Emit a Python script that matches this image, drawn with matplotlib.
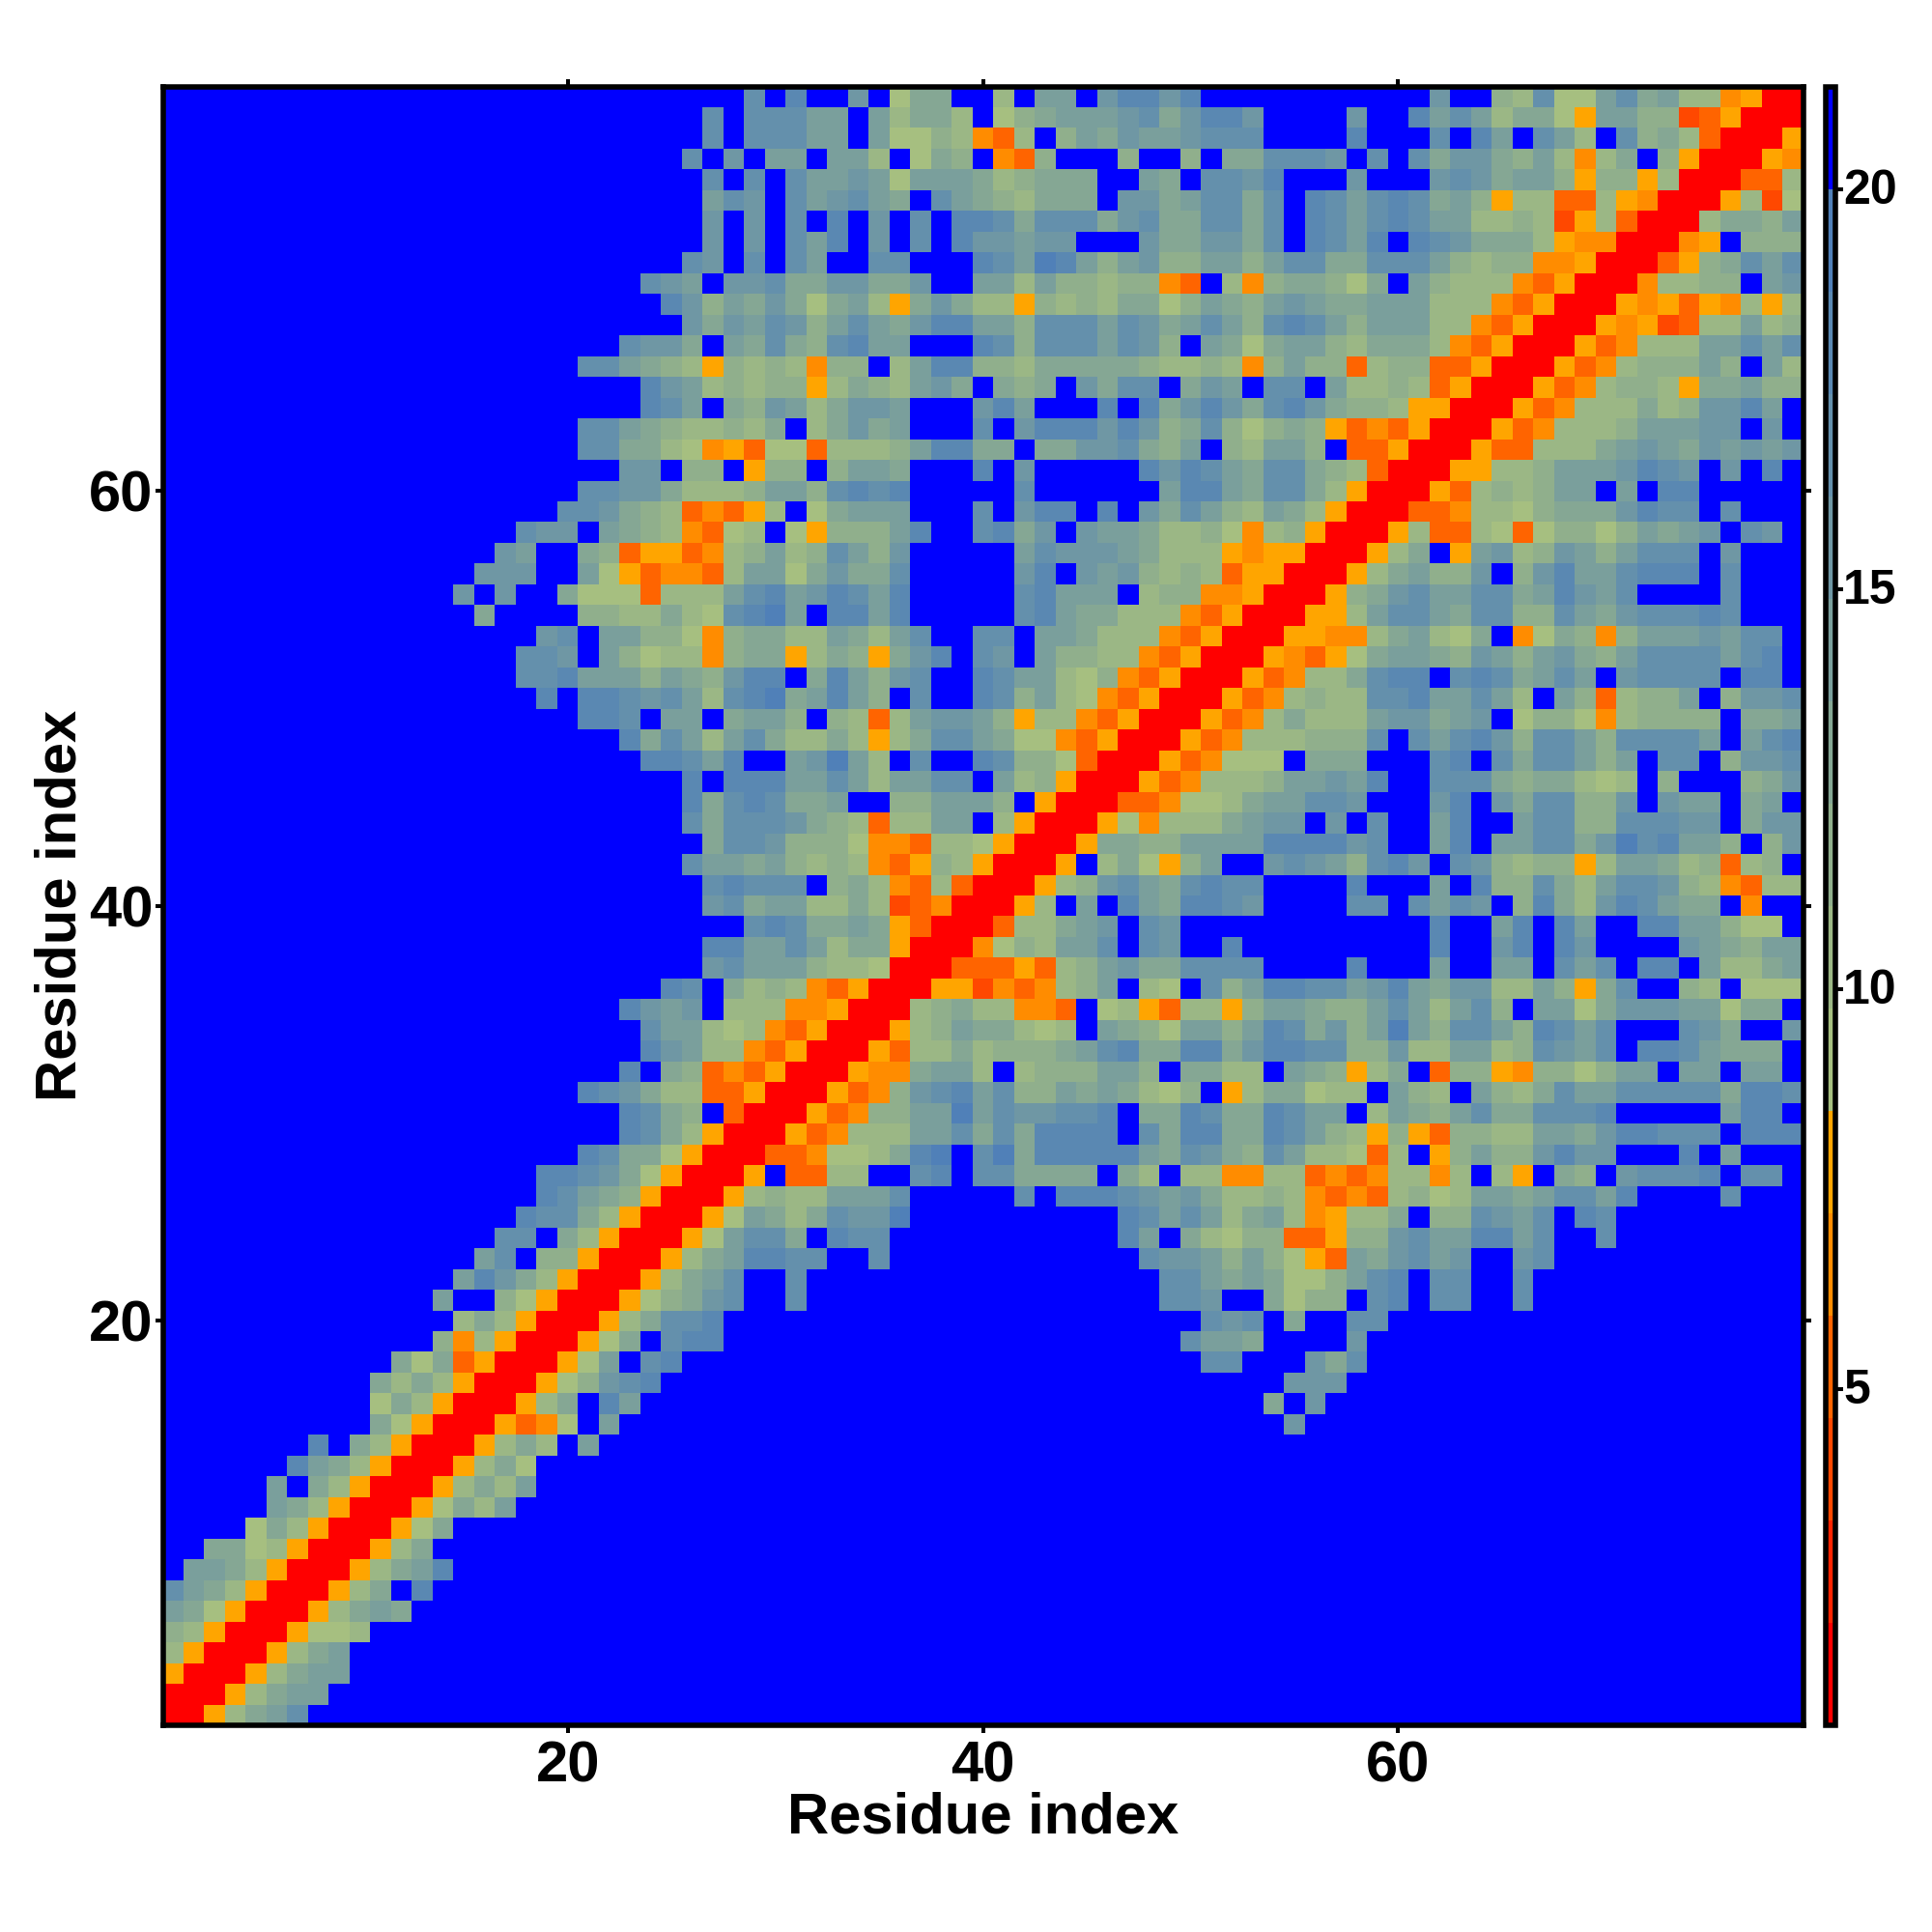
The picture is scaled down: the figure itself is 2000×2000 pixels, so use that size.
import matplotlib
matplotlib.use("Agg")
import matplotlib.pyplot as plt
import numpy as np
from matplotlib.colors import ListedColormap, BoundaryNorm
from matplotlib.transforms import ScaledTranslation

plt.rcParams['font.family'] = ['Liberation Sans', 'DejaVu Sans']
plt.rcParams['font.weight'] = 'bold'

# distance-map bins and their colours, one per bin, low to high
BIN_EDGES = [0.8, 2.08, 3.36, 4.64, 5.92, 7.2, 8.48, 9.76, 11.04, 12.32, 13.6, 14.88, 16.16, 17.44, 18.72, 20.0, 21.28]
BIN_COLORS = ['#ff0000', '#ff2400', '#ff4800', '#ff6400', '#ff8c00', '#ffa500',
              '#a6bf80', '#9bb785', '#90af8c', '#85a794', '#7a9f9c', '#6f97a4', '#6490ac', '#5a88b2', '#5080b8',
              '#0000ff']
# symbol -> distance value read for a cell
SYMBOL_VALUES = {'R': 1.44, 'r': 4.0, 'q': 5.28, 'p': 6.56, 'o': 7.84,
                 'a': 9.12, 'b': 10.4, 'c': 11.68, 'd': 12.96, 'e': 14.24,
                 'f': 15.52, 'g': 16.8, 'h': 18.08, 'i': 19.36, '.': 20.64}

XY_TICKS = [20, 40, 60]
CBAR_TICKS = [5, 10, 15, 20]
AXIS_LABEL = 'Residue index'

# One string per row, residue 79 at the top down to residue 1; groups of ten columns.
ROWS_TOP = [
".......... .......... ........g. h..f.add.. b.ee.fhhfh .......... .f..cbgaae gdebbpoRR",
".......... .......... ......g.gg gee.ebddb. acdeeefgdf hhf....f.. hegebddaoe eccrqoRRR",
".......... .......... ......g.gg gee.eaacbp qb.cedfeef ggg....h.. .g.he.geb. gcdbqRRRo",
".......... .......... .....g.f.e e.eeb.adc. pqc...c..c .ddgggf.g. gdffdcebpb d.coRRRop",
".......... .......... ......g.g. geefeaeeed bcddd..ed. ggfh...f.. .fgfdeecoc cobRRRqqb",
".......... .......... ......egf. gefged.ged cbddd.ffde ggdg.hgegh gdecobbqqb opRRRobra",
".......... .......... ......f.f. g.h.f.g.hh gdgggdfgdd ggdg.hgegh geebbcbrob qRRRbddce",
".......... .......... ......f.f. geh.f.g.hf feff...fdd ffdg.hgeh. hgfdddbopp RRRpo.ccc",
".......... .......... .....gf.g. ge..gg...h geihecefcc eeceggddgg gecbccppoR RRqocdgeg",
".......... .......... ...gfe.ffg ddffddf..e ebeccbccpq .bpcddcad. ecbbbpqoRR Rpbbcc.ef",
".......... .......... ....hfcedf dadebodfdb bocbcbddac edcefeddee ebbbpqoRRR opoqopbob",
".......... .......... .....fdfeg fcegedfhhe ecgggegfde gecghgecee ebbpqoRRRo porqbbebc",
".......... .......... ..gffd.edg dcghee...h gcgggegfc. edadeecbdd dbpqoRRRoq pbbbeegeg",
".......... .......... ggedcbocbc bpcc.behhc cbdddddcbb cbpceccqbc cqqoRRRoqp bcccec.eb",
".......... .......... ...hfebcbc cobdcbefd. dcd.fdgg.d fe.gg.ebbc bqoRRRoqpb ccboddecc",
".......... .......... ...hge.dcf ebdffe...f he...h.hdf hfdghfdccb ooRRRoqpbb bdbcffhe.",
".......... .......... ggedcbbcbd .bdfde...g .fhhhfhfcd gcacdcoqpq oRRRoqpbbb ceeeff.f.",
".......... .......... ggddbapoqa aqbbbcehhd d.ddffgdce .cbeec.qqo RRRoqqbbbd efedfefef",
".......... .......... ..ff.cc.oc c.ceed...h .f.....hfh gedggdcbqR RRoobbceee fhgf.f.h.",
".......... .......... ggffdbbbce ecghgh.... .g......eh hedggdboRR Roqbcbcee. e.hh.....",
]
ROWS_MIDDLE = [
".......... .........g gfdcbqpqob .adeee...g .fhh.h.fdg ecbedboRRR qqpbbacddd fhgg.g...",
".......... .......gff .edcbpqab. aoccceh..g hdf.feedbb capbcoRRRo bqqbaqacca cedef.gf.",
".......... ......fe.. dcqooqpbce bcgecf.... .egfffedbb bopooRRRob d.oefbcfec eggg.f...",
".......... .....fff.. eaoqppqbee adfddg.... .fh.fefcbc bqooRRRobd eccf.cfhee ghhh.g...",
".......... ....f.f..d aaaqbbbegh efhgeh.... .gheee.bcc ppoRRRocdf geeggdehfe g....g...",
".......... .....d.... ccbbdbaghi e.hheh.... .gheddbbbp qoRRRoobeg gedggccged fggghg...",
".......... ........fg .eeccapcdd bbedbeg..g g.eedbbbpq oRRRooppbd ebad.padcp ceeefegg.",
".......... .......ggf .ecabbpcdd obdcodfh.g f.eccbbpqo RRRopqoade edcfecefdc eggggegh.",
".......... .......ggh eeecedcfhh .dhecfg..h geebacpqoR RRoqpbbdgh h.ghgdege. fgggg.hh.",
".......... ........h. hhgfgebghi dehec.g..h gcebapqoRR Roqpbcbbgg heegeb.ecq bcce.cffg",
".......... .......... hhg.ee.dee c.cbqbeffe cobbpqoRRR oqpbdbbbef fdef.accap bcccc.dde",
".......... .......... ..hdgebegd bbdbobdgge daapqoRRRo qpbbbcccg. geghfcggec gggge.egh",
".......... .......... ...hhgeh.. efieb.g..h gccaqRRRoq paaa.ddd.. .gh.gdggec e.gg.cffg",
".......... .......... .....h.hhh eegebeegg. ebcoRRRoqp bbbceefeh. .gggdcddba b.c...cdf",
".......... .......... .....hdghg dde..cceee c.oRRRqqpa abdeeggf.. .fh.fdggcc f.fee.de.",
".......... .......... .....gdggg fdcbqbbee. boRRRoapbb bdeff.f.g. .eh..eggcc gggff.dff",
".......... .......... ......dggf cccappqbba oRRRoddcce eeehhhhfg. .eh.eeggdf igheec.cf",
".......... .......... .....geede cbcbpqocbo RRRo.bdaoc e..fgfecgh f.gfcbccob eedbcqbc.",
".......... .......... ......ghgg g.cdbpqbqR RRobcfgedg hgg....h.. .e.hccgdbe ggfcbpqbb",
".......... .......... ......fgde ebbdbrqpRR Rob.e.hedh hgf....gg. gegf.chdbf hgedd.p..",
]
ROWS_LOWER = [
".......... .......... ........gh gddedoqRRR qbbdef.gf. .......... .h..eh.he. .hheecaa.",
".......... .......... ......hhee gebddoRRRp acbeeg.gf. .h........ .h..fh.hf. ...fedcee",
".......... .......... ......fgee ecbbaRRRqq qoqbcefddg ggg....h.. .e..ee.geg .hh.ebbde",
".......... .......... ....hg.dbc bpqoRRRoor pqpbce.ba. gcehhggefh edffbbecod g..cb.aaa",
".......... .......... ..hfef.bbb ppoRRRbcdb bppq.aboqb boceedcceg ebegc.eead fffeeadd.",
".......... .......... ...geebabp qoRRRobced dbab.edcae ecehgdfcei ecggechgeg ...gfd..f",
".......... .......... ...hfebbpq oRRRoqbbdb cccdeghddh hdfhhggccf bbeebcgfeg .hhgeddd.",
".......... .......... ..h.dcqpqo RRRoppdeeb .bccceec.d dbb.edcobd .qccopccac ee.ee.ee.",
".......... .......... hgfdbbqqoR RRoqpcfghe gccededbac .obddabb.e cb.ecbdgee gggggdhhg",
".......... .......... ..hgdc.qRR Roqpcceeie gffggh.ddh gddhgee.be dcegddgggh .....ehh.",
".......... .......... ..hgdboRRR oqpbbbeegd gdhhhh.gdh hddhgecboc oqccbbeedf hhggg.hhh",
".......... .......... hgddaoRRRq qpaabdhi.g idhhhhhedg fdcgebbaqb .oceccfhff ...h.e...",
".......... ........hh gfdaoRRRo. qqbb..gh.g gdddd.db.b bppbbqpqpb bpb.bo.dc. fgggh.gg.",
".......... ........hg edcoRRRobc bbeeeg.... .g.hhhgfef dbbcbpqpqb cabeedegge h....g...",
".......... .......hgg dboRRRoaed bdgffi.... ......hgeg ebdebpobbd .ccgfeg.hg .........",
".......... ......gg.d boRRRoaegg d.hgg..... ......he.d baccqqoccf geehheg..g .........",
".......... .....eg.cc oRRRobdehh gg..g..... .......gff ececaoqedf gef..fg... .........",
".......... ....ehfdbo RRRobdeg.. g......... ........gg ededaacegh .gg..g.... .........",
".......... ...e..caoR RRoacdfg.. g......... ........gg f..dacc.gh .gg..g.... .........",
".......... ....bdboRR Robdggh... .......... .......... gfg.d..gg. .......... .........",
]
ROWS_BOTTOM = [
".......... ...cpboRRR oad.ghh... .......... .........g eed....f.. .......... .........",
".......... .dadqoRRRo ae.gh..... .......... .......... gg...fdg.. .......... .........",
".......... dbdboRRRoa cfgh...... .......... .......... ....fff... .......... .........",
".......... adboRRRobd .he....... .......... .......... ...d.f.... .......... .........",
".......... daoRRRoqpa .e........ .......... .......... ....f..... .......... .........",
".......h.d boRRRobdb. e......... .......... .......... .......... .......... .........",
"......hedb oRRRobda.. .......... .......... .......... .......... .......... .........",
".....e.dbo RRRobdbe.. .......... .......... .......... .......... .......... .........",
".....edboR RRoadbe... .......... .......... .......... .......... .......... .........",
"....adboRR Road...... .......... .......... .......... .......... .......... .........",
"..ddaboRRR obd....... .......... .......... .......... .......... .......... .........",
".eedboRRRo bdeh...... .......... .......... .......... .......... .......... .........",
"gedboRRRob d.h....... .......... .......... .......... .......... .......... .........",
"edaoRRRobd ed........ .......... .......... .......... .......... .......... .........",
"cboRRRoaab .......... .......... .......... .......... .......... .......... .........",
"boRRRobde. .......... .......... .......... .......... .......... .......... .........",
"oRRRobdee. .......... .......... .......... .......... .......... .......... .........",
"RRRobdee.. .......... .......... .......... .......... .......... .......... .........",
"RRobdeg... .......... .......... .......... .......... .......... .......... .........",
]

rows = ROWS_TOP + ROWS_MIDDLE + ROWS_LOWER + ROWS_BOTTOM
assert len(rows) == 79, len(rows)
for i, row in enumerate(rows):
    groups = row.split(' ')
    lens = [len(g) for g in groups]
    if lens != [10] * 7 + [9]:
        print('bad row', 79 - i, lens)
Z = np.array([[SYMBOL_VALUES[c] for c in row.replace(' ', '').ljust(79, '.')[:79]] for row in rows])[::-1]

cmap = ListedColormap(BIN_COLORS)
norm = BoundaryNorm(BIN_EDGES, cmap.N)

W, H = 2000.0, 2000.0
fig = plt.figure(figsize=(20, 20), dpi=100, facecolor='white')
L, R_, T, B = 168.5, 1866.5, 89.5, 1786.0
ax = fig.add_axes([L / W, 1 - B / H, (R_ - L) / W, (B - T) / H])
edges = np.arange(0.5, 80.5)
mesh = ax.pcolormesh(edges, edges, Z, cmap=cmap, norm=norm, antialiased=False, linewidth=0)
ax.set_xlim(0.5, 79.5)
ax.set_ylim(0.5, 79.5)
ax.set_xticks(XY_TICKS)
ax.set_yticks(XY_TICKS)
ax.tick_params(axis='both', which='major', direction='out', length=6, width=2.9,
               top=True, right=True, labeltop=False, labelright=False, labelsize=43)
ax.tick_params(axis='x', pad=4.9)
ax.tick_params(axis='y', pad=1.1)
for s in ax.spines.values():
    s.set_linewidth(4.0)
ax.set_xlabel(AXIS_LABEL, fontsize=43, fontweight='bold', va='baseline')
ax.xaxis.set_label_coords(0.5, (B - 1898) / (B - T))
ax.set_ylabel(AXIS_LABEL, fontsize=43, fontweight='bold', va='baseline')
ax.yaxis.set_label_coords((79 - L) / (R_ - L), 0.5)

cax = fig.add_axes([1889.5 / W, 1 - B / H, 11.0 / W, (B - T) / H])
cb = fig.colorbar(mesh, cax=cax, ticks=CBAR_TICKS, spacing='proportional')
cb.ax.tick_params(which='major', direction='out', length=5.5, width=2.9, labelsize=36, pad=0)
cb.ax.minorticks_off()
cb.outline.set_linewidth(4.0)
up = ScaledTranslation(0, 3 / 100, fig.dpi_scale_trans)
for lab in cb.ax.get_yticklabels():
    lab.set_transform(lab.get_transform() + up)

fig.savefig('out.png', dpi=100, facecolor='white')
